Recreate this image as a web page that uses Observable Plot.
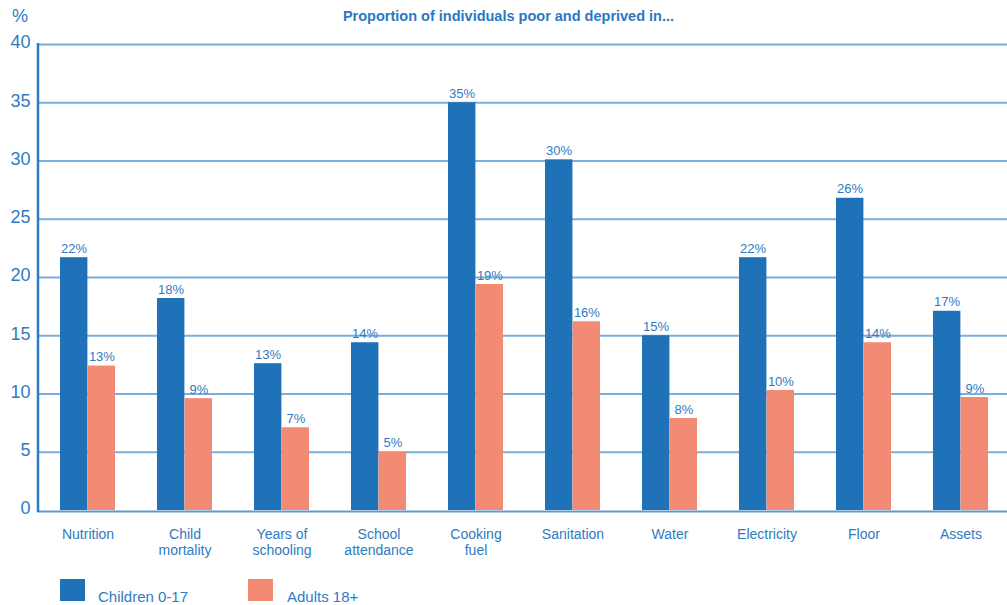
<!DOCTYPE html>
<html>
<head>
<meta charset="utf-8">
<script src="https://cdn.jsdelivr.net/npm/d3@7"></script>
<script src="https://cdn.jsdelivr.net/npm/@observablehq/plot@0.6"></script>
<style>
  html, body { margin: 0; padding: 0; background: #fff; }
  body { width: 1007px; height: 605px; overflow: hidden; font-family: "Liberation Sans", Arial, sans-serif; color: #2f7bc3; }
  #header { position: relative; height: 24px; }
  #pct { position: absolute; left: 12px; top: 6px; font-size: 18px; color: #2f7bc3; }
  #title { position: absolute; left: 0; width: 1017px; top: 8px; text-align: center; font-weight: bold; font-size: 14.5px; color: #2a78c2; }
  #legend { position: relative; height: 41px; }
  .sw { position: absolute; top: 15px; width: 25px; height: 22px; }
  .lt { position: absolute; top: 24px; font-size: 15px; color: #2f7bc3; }
  svg { display: block; position: relative; }
</style>
</head>
<body>
<div id="header"><span id="pct">%</span><div id="title">Proportion of individuals poor and deprived in...</div></div>
<div id="chart"></div>
<div id="legend"></div>
<script>
const categories = ["Nutrition","Child mortality","Years of schooling","School attendance","Cooking fuel","Sanitation","Water","Electricity","Floor","Assets"];
const tickLabels = ["Nutrition","Child\nmortality","Years of\nschooling","School\nattendance","Cooking\nfuel","Sanitation","Water","Electricity","Floor","Assets"];
const series = ["Children 0-17","Adults 18+"];
const children = [21.7, 18.2, 12.6, 14.4, 35.0, 30.1, 15.0, 21.7, 26.8, 17.1];
const adults = [12.4, 9.6, 7.1, 5.0, 19.4, 16.2, 7.9, 10.3, 14.4, 9.7];
const childrenLabels = ["22%","18%","13%","14%","35%","30%","15%","22%","26%","17%"];
const adultsLabels = ["13%","9%","7%","5%","19%","16%","8%","10%","14%","9%"];
const yTicks = [0,5,10,15,20,25,30,35,40];
const colors = ["#1f71b8","#f28a74"];

const dataC = categories.map((c,i) => ({category: c, value: children[i], label: childrenLabels[i]}));
const dataA = categories.map((c,i) => ({category: c, value: adults[i], label: adultsLabels[i]}));
const tickMap = new Map(categories.map((c,i) => [c, tickLabels[i]]));

const half = 27.6;
const labelShift = 13.9;
const textColor = "#2f7bc3";
const marginLeft = 37;

const plot = Plot.plot({
  width: 1007,
  height: 540,
  marginTop: 20,
  marginBottom: 54,
  marginLeft: marginLeft,
  marginRight: 0,
  style: {fontFamily: '"Liberation Sans", Arial, sans-serif', background: "transparent"},
  x: {type: "band", domain: categories, range: [36, 1013], paddingInner: 0.43, paddingOuter: 0.215, axis: null, label: null},
  y: {domain: [0, 40], axis: null, label: null},
  marks: [
    Plot.ruleY(yTicks.filter(d => d > 0), {stroke: "#7aaedb", strokeWidth: 1.8}),
    Plot.ruleY([0], {stroke: "#5d9ad3", strokeWidth: 2, dy: 1}),
    Plot.barY(dataC, {x: "category", y: "value", fill: colors[0], insetRight: half}),
    Plot.barY(dataA, {x: "category", y: "value", fill: colors[1], insetLeft: half}),
    Plot.text(dataC, {x: "category", y: "value", text: "label", dx: -labelShift, dy: -9, fill: textColor, fontSize: 13}),
    Plot.text(dataA, {x: "category", y: "value", text: "label", dx: labelShift, dy: -9, fill: textColor, fontSize: 13}),
    Plot.axisY(yTicks, {tickSize: 0, tickPadding: 7, fontSize: 18, color: textColor, dy: -2, anchor: "left", label: null}),
    Plot.axisX(categories, {tickSize: 0, tickPadding: 17, fontSize: 14, color: textColor, lineHeight: 1.15, tickFormat: d => tickMap.get(d), anchor: "bottom", label: null})
  ]
});
// left axis line drawn from the plot's own y scale
const ys = plot.scale("y");
d3.select(plot).append("line")
  .attr("x1", marginLeft + 1).attr("x2", marginLeft + 1)
  .attr("y1", ys.apply(40) - 1).attr("y2", ys.apply(0) + 2)
  .attr("stroke", "#2f7bc3").attr("stroke-width", 2.5);
document.getElementById("chart").appendChild(plot);

const legend = document.getElementById("legend");
const items = [{x: 60, tx: 98}, {x: 248, tx: 287}];
series.forEach((s, i) => {
  const sw = document.createElement("div");
  sw.className = "sw"; sw.style.left = items[i].x + "px"; sw.style.background = colors[i];
  legend.appendChild(sw);
  const t = document.createElement("div");
  t.className = "lt"; t.style.left = items[i].tx + "px"; t.textContent = s;
  legend.appendChild(t);
});
</script>
</body>
</html>
